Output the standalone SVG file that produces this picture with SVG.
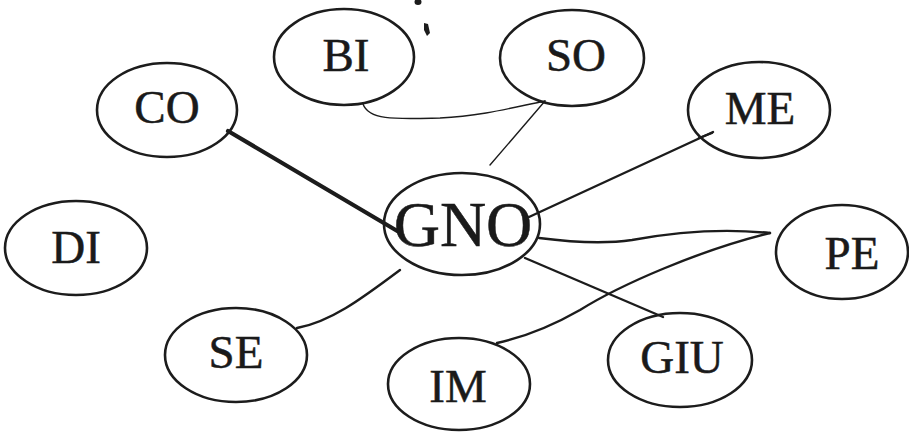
<svg xmlns="http://www.w3.org/2000/svg" width="909" height="434" viewBox="0 0 909 434">
<style>
.node ellipse{fill:none;stroke:#1c1c1c;stroke-width:2.6}
.node text{font-family:"Liberation Serif","Times New Roman",serif;font-size:47px;fill:#1a1a1a;stroke:#1a1a1a;stroke-width:0.5;text-anchor:middle}
#GNO text{font-size:64px}
.edge{fill:none;stroke:#1c1c1c;stroke-linecap:round;stroke-linejoin:round}
.thin{stroke-width:1.4}
.med{stroke-width:2.4}
.thick{stroke-width:4.2}
</style>
<rect width="909" height="434" fill="#ffffff"/>
<g id="connectors">
<path class="edge thick" d="M228,131 L399,232"/>
<path class="edge thin" d="M363,104 C369,121 398,119 440,118 C482,116 515,107 545,101"/>
<path class="edge thin" d="M545,101 L490,165"/>
<path class="edge med" d="M713,132 L529,217"/>
<path class="edge med" d="M699,138 L712,133"/>
<path class="edge med" d="M539,238 C570,242 605,244 632,240 C670,233 720,228 770,233"/>
<path class="edge med" d="M770,233 C700,250 620,285 580,310 C545,330 520,338 497,343"/>
<path class="edge med" d="M525,258 L663,317"/>
<path class="edge med" d="M297,328 C330,322 360,300 400,270"/>
</g>
<g id="BI" class="node"><ellipse cx="344" cy="57" rx="70" ry="48"/><text x="346" y="71">BI</text></g>
<g id="SO" class="node"><ellipse cx="572" cy="58" rx="72" ry="48"/><text x="576" y="71">SO</text></g>
<g id="CO" class="node"><ellipse cx="167" cy="110" rx="70" ry="47"/><text x="167" y="123">CO</text></g>
<g id="ME" class="node"><ellipse cx="759" cy="110" rx="71" ry="48"/><text x="760" y="124">ME</text></g>
<g id="DI" class="node"><ellipse cx="76" cy="248" rx="71" ry="47"/><text x="76" y="263">DI</text></g>
<g id="GNO" class="node"><ellipse cx="462" cy="224" rx="78" ry="51"/><text x="463" y="246">GNO</text></g>
<g id="PE" class="node"><ellipse cx="842" cy="252" rx="66" ry="47"/><text x="852" y="269">PE</text></g>
<g id="SE" class="node"><ellipse cx="236" cy="355" rx="71" ry="47"/><text x="236" y="368">SE</text></g>
<g id="GIU" class="node"><ellipse cx="680" cy="360" rx="72" ry="47"/><text x="682" y="373">GIU</text></g>
<g id="IM" class="node"><ellipse cx="459" cy="384" rx="71" ry="46"/><text x="458" y="402">IM</text></g>
<g id="marks" fill="#1c1c1c">
<ellipse cx="418" cy="2" rx="3.5" ry="3"/>
<path d="M424,23 L428,24 L430,33 L427,36 L424,30 Z"/>
</g>
</svg>
